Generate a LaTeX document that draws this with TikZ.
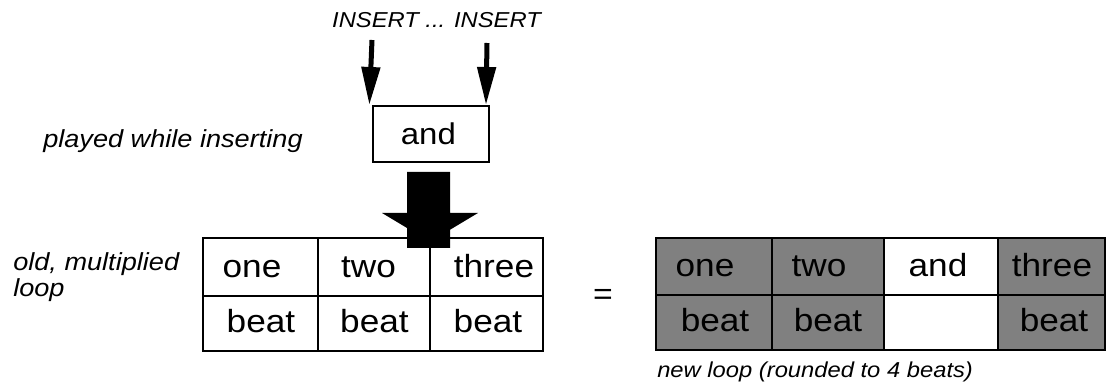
\documentclass[tikz,border=0pt]{standalone}
\usepackage{fontspec}
\setmainfont[FakeStretch=1.1]{Liberation Sans}
\usetikzlibrary{arrows.meta}
\definecolor{cellgray}{RGB}{128,128,128}
\tikzset{
  cellline/.style={draw=black, line width=1.9pt},
  grayline/.style={draw=black, fill=cellgray, line width=1.9pt},
  celltext/.style={inner sep=0pt, anchor=base, font=\fontsize{24}{28}\selectfont},
  label/.style={inner sep=0pt, anchor=base west, font=\fontsize{18.5}{22}\selectfont\itshape},
  small/.style={inner sep=0pt, font=\fontsize{16.2}{19}\selectfont\itshape},
  insarrow/.style={line width=3.75pt, -{Triangle[length=28.5pt, width=13.5pt]}},
  andbox/.style={draw=black, line width=1.5pt, minimum width=87pt, minimum height=42pt, inner sep=0pt, font=\fontsize{22.5}{26}\selectfont},
}
\begin{document}
\begin{tikzpicture}[x=0.75pt, y=-0.75pt]
\useasboundingbox (0,0) rectangle (1115,388);

% top label and arrows
\node[small, anchor=base] (ins) at (436.5,28) {INSERT ... INSERT};
\node[andbox] (and) at (431,134) {\hspace*{-4pt}and};
\coordinate (sL) at (372,40);
\coordinate (sR) at (487,43);
\draw[insarrow] (sL) -- ([xshift=-2pt]and.north west);
\draw[insarrow] (sR) -- ([xshift=-3pt]and.north east);

\node[label] (played) at (43,148) {played while inserting};

% old table
\draw[cellline] (203,238) rectangle (318,296);
\draw[cellline] (318,238) rectangle (430,296);
\draw[cellline] (430,238) rectangle (543,296);
\draw[cellline] (203,296) rectangle (318,351);
\draw[cellline] (318,296) rectangle (430,351);
\draw[cellline] (430,296) rectangle (543,351);
\node[celltext] (o1) at (252,278) {one};
\node[celltext] (o2) at (368.5,278) {two};
\node[celltext] (o3) at (494,278) {three};
\node[celltext] (o4) at (261,333) {beat};
\node[celltext] (o5) at (374.5,333) {beat};
\node[celltext] (o6) at (488,333) {beat};

% big arrow
\fill[black] (407,172) -- (450,172) -- (450,213) -- (478,213) -- (450,229.8)
  -- (450,248) -- (407,248) -- (407,228) -- (382,213) -- (407,213) -- cycle;

\node[label] (old1) at (13,271) {old, multiplied};
\node[label] (old2) at (13,297) {loop};

\node[inner sep=0pt, font=\fontsize{23}{27}\selectfont] (eq) at (603,297) {=};

% new table
\draw[grayline] (656,238) rectangle (772,295);
\draw[grayline] (772,238) rectangle (884,295);
\draw[cellline] (884,238) rectangle (998,295);
\draw[grayline] (998,238) rectangle (1105,295);
\draw[grayline] (656,295) rectangle (772,350);
\draw[grayline] (772,295) rectangle (884,350);
\draw[cellline] (884,295) rectangle (998,350);
\draw[grayline] (998,295) rectangle (1105,350);
\node[celltext] (n1) at (705,277) {one};
\node[celltext] (n2) at (819,277) {two};
\node[celltext] (n3) at (938,277) {and};
\node[celltext] (n4) at (1052,277) {three};
\node[celltext] (n5) at (715,332) {beat};
\node[celltext] (n6) at (828,332) {beat};
\node[celltext] (n7) at (1054,332) {beat};

\node[small, anchor=base west] (newl) at (657,378) {new loop (rounded to 4 beats)};
\end{tikzpicture}
\end{document}
